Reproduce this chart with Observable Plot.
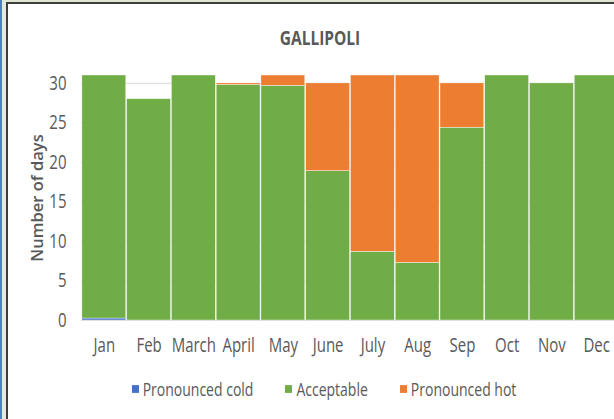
<!DOCTYPE html>
<html><head><meta charset="utf-8">
<script src="https://cdn.jsdelivr.net/npm/d3@7"></script>
<script src="https://cdn.jsdelivr.net/npm/@observablehq/plot@0.6"></script>
<style>
html,body{margin:0;padding:0;width:614px;height:419px;overflow:hidden;background:#fff;font-family:"Open Sans",sans-serif;}
#chart{position:absolute;left:0;top:0;}
#chart svg{max-width:none !important;}
.f{position:absolute;z-index:5;}
#title{position:absolute;left:0;width:640px;top:25px;line-height:24px;text-align:center;font-size:15.5px;font-weight:bold;color:#595959;z-index:6;transform:scaleY(1.3);}
#legend{position:absolute;top:378px;left:4px;width:640px;line-height:22px;display:flex;justify-content:center;gap:32px;font-size:14px;color:#595959;z-index:6;transform:scaleY(1.3);}
#legend span.sw{display:inline-block;width:7px;height:6px;margin-right:4px;vertical-align:middle;position:relative;top:-1px;}
</style></head><body>
<div class="f" style="left:0;top:0;width:614px;height:2px;background:#dfe6d2"></div>
<div class="f" style="left:0;top:0;width:2px;height:419px;background:#4f7fc9"></div>
<div class="f" style="left:2px;top:2px;width:4px;height:417px;background:#e4ead9"></div>
<div class="f" style="left:6px;top:2px;width:2px;height:417px;background:#3d3d3d"></div>
<div class="f" style="left:6px;top:2px;width:608px;height:2px;background:#3d3d3d"></div>
<div id="chart"></div>
<div id="title">GALLIPOLI</div>
<div id="legend"></div>
<script>
const months = ["Jan","Feb","March","April","May","June","July","Aug","Sep","Oct","Nov","Dec"];
const series = ["Pronounced cold","Acceptable","Pronounced hot"];
const colors = ["#4472c4","#70ad47","#ed7d31"];
const cold = [0.25,0,0,0,0,0,0,0,0,0,0,0];
const acceptable = [30.75,28,31,29.8,29.7,18.9,8.7,7.3,24.4,31,30,31];
const hot = [0,0,0,0.2,1.3,11.1,22.3,23.7,5.6,0,0,0];
const yTicks = [0,5,10,15,20,25,30];

const data = [];
months.forEach((m,i)=>{
  data.push({month:m, series:series[0], value:cold[i]});
  data.push({month:m, series:series[1], value:acceptable[i]});
  data.push({month:m, series:series[2], value:hot[i]});
});

const chart = Plot.plot({
  width:619, height:419,
  marginLeft:81, marginRight:0, marginTop:75, marginBottom:99,
  style:{fontSize:"15px", color:"#595959", fontFamily:"'Open Sans',sans-serif", background:"transparent", maxWidth:"none"},
  x:{domain:months, padding:0.02, round:false, label:null},
  y:{domain:[0,31], label:null},
  color:{domain:series, range:colors},
  marks:[
    Plot.ruleY(yTicks,{stroke:"#d9d9d9", strokeWidth:1}),
    Plot.barY(data,{x:"month", y:"value", fill:"series", stroke:"white", strokeWidth:0.4}),
    Plot.axisX({tickSize:0, tickPadding:18, fill:"#595959"}),
    Plot.axisY({ticks:yTicks, tickSize:0, tickPadding:15, fill:"#595959"}),
    Plot.text(["Number of days"],{frameAnchor:"left", dx:-44, rotate:-90, textAnchor:"middle", fontWeight:600, fontSize:16.5, fill:"#595959"})
  ]
});
chart.querySelectorAll('g[aria-label="x-axis tick label"] text, g[aria-label="y-axis tick label"] text').forEach(t=>{
  const tr = t.getAttribute("transform") || "";
  t.setAttribute("transform", tr + " scale(1,1.3)");
});
document.getElementById("chart").appendChild(chart);

const leg = document.getElementById("legend");
series.forEach((s,i)=>{
  const d = document.createElement("div");
  d.innerHTML = `<span class="sw" style="background:${colors[i]}"></span>${s}`;
  leg.appendChild(d);
});
</script>
</body></html>
